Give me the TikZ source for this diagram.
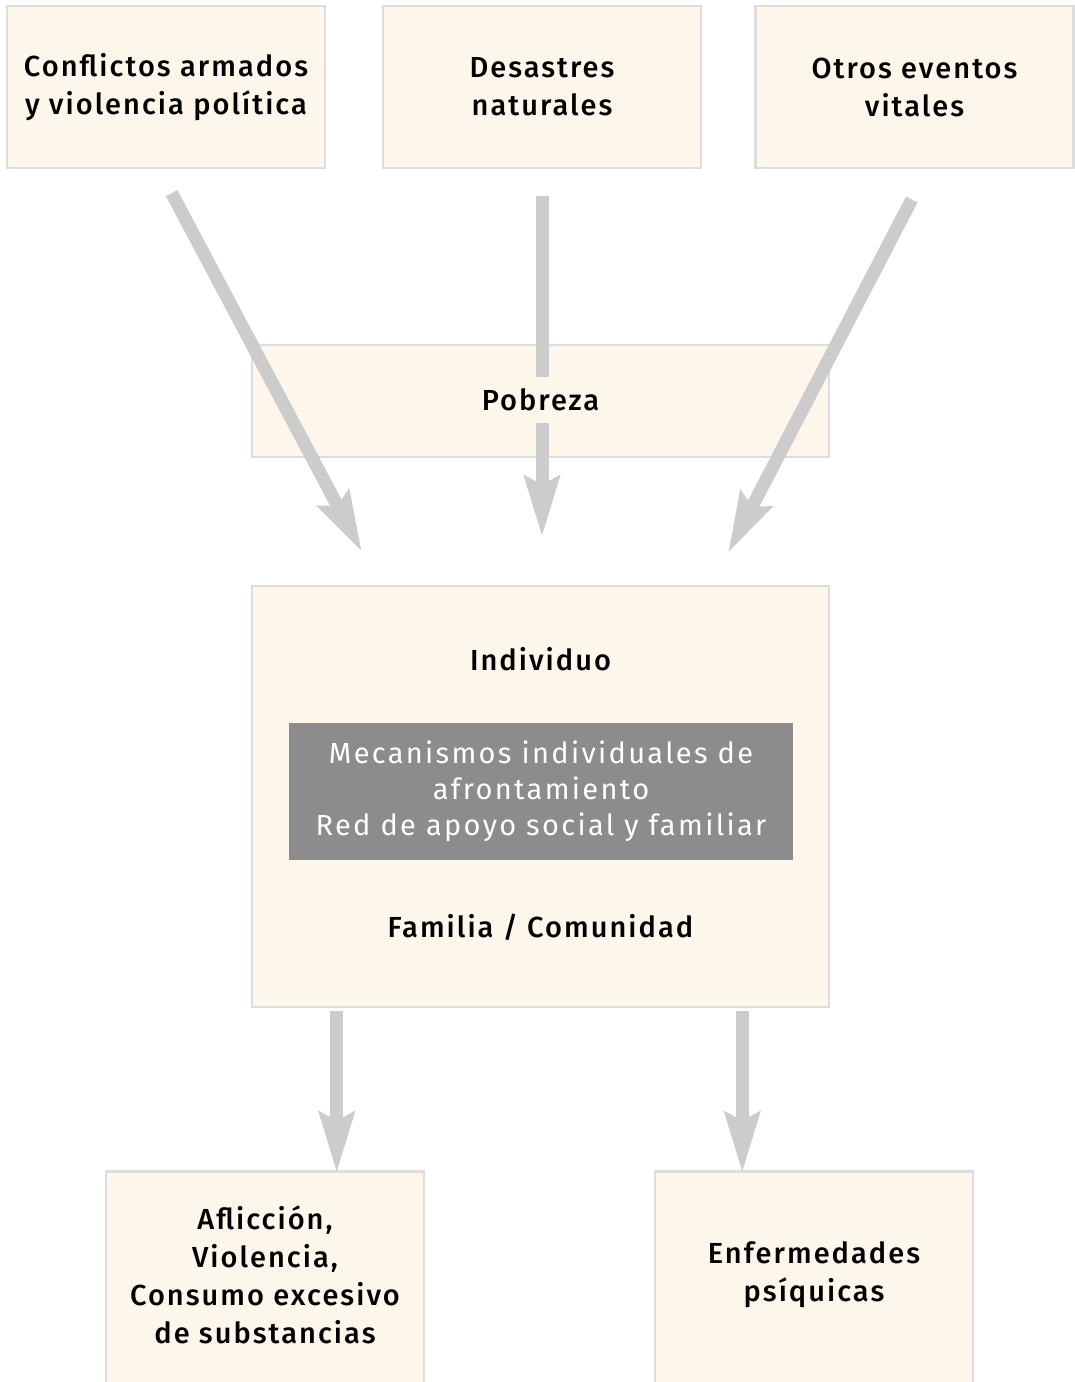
\documentclass[tikz,border=0pt]{standalone}
\usepackage{fontspec}
\setmainfont{Fira Sans}[BoldFont={Fira Sans Medium}, LetterSpace=7]
\usetikzlibrary{arrows.meta}
\definecolor{cream}{RGB}{253,247,235}
\definecolor{boxline}{RGB}{221,221,221}
\definecolor{arrowgray}{RGB}{204,204,204}
\definecolor{mecgray}{RGB}{140,140,140}
\tikzset{
  causebox/.style={draw=boxline, line width=1.25pt, fill=cream, minimum width=159pt, minimum height=81pt, inner sep=0pt, align=center, font=\bfseries\fontsize{14.5}{19}\selectfont},
  lbl/.style={inner sep=0pt, align=center, font=\bfseries\fontsize{14.5}{19}\selectfont},
  bigarrow/.style={draw=arrowgray, line width=6.5pt, -{Stealth[length=30pt,width=17pt,inset=4pt]}}
}
\begin{document}
\begin{tikzpicture}[x=0.5pt,y=-0.5pt]
\useasboundingbox (0,0) rectangle (1075,1382);
\clip (0,0) rectangle (1075,1382);

%Causes
\node[causebox] (conf) at (166,87) {Conflictos armados\\y violencia política};
\node[causebox] (desa) at (542,87) {Desastres\\naturales};
\node[causebox] (otros) at (914.5,87) {Otros eventos\\vitales};

%Pobreza band
\node[causebox, minimum width=288.5pt, minimum height=56pt] (pobbox) at (540.5,401) {};

%Individuo block
\node[causebox, minimum width=288.5pt, minimum height=210.5pt] (ind) at (540.5,796.5) {};
\node[lbl] (indlbl) at (540.5,659) {Individuo};
\node[fill=mecgray, text=white, minimum width=252pt, minimum height=68.5pt, inner sep=0pt, align=center, font=\fontsize{14.5}{18}\selectfont\addfontfeatures{LetterSpace=8}] (mec) at (541,791.5) {Mecanismos individuales de\\afrontamiento\\Red de apoyo social y familiar};
\node[lbl] (fam) at (540.5,927) {Familia / Comunidad};

%Outcomes
\node[causebox, minimum height=115pt, anchor=north] (aflbox) at (265,1170) {};
\node[lbl] (afl) at (265,1275) {Aflicción,\\Violencia,\\Consumo excesivo\\de substancias};
\node[causebox, minimum height=115pt, anchor=north] (enfbox) at (814,1170) {};
\node[lbl] (enf) at (814,1275) {Enfermedades\\psíquicas};

%Arrows in
\coordinate (tipconf) at (362,552);
\coordinate (tipdesa) at (542,537);
\coordinate (tipotros) at (728,553);
\draw[bigarrow, shorten <=13.5pt] ([xshift=-3.5pt]conf.south) -- (tipconf);
\draw[bigarrow, shorten <=13.5pt] (desa.south) -- (tipdesa);
\draw[bigarrow, shorten <=17pt] ([xshift=6.5pt]otros.south) -- (tipotros);
\node[lbl, fill=cream, minimum height=23pt] (pob) at (540.5,400) {Pobreza};

%Arrows out
\coordinate (lout) at ([xshift=43pt]ind.south west);
\coordinate (rout) at ([xshift=-44pt]ind.south east);
\draw[bigarrow, shorten <=1.5pt, shorten >=-1.5pt] (lout) -- (lout |- aflbox.north);
\draw[bigarrow, shorten <=1.5pt, shorten >=-1.5pt] (rout) -- (rout |- enfbox.north);
\end{tikzpicture}
\end{document}
